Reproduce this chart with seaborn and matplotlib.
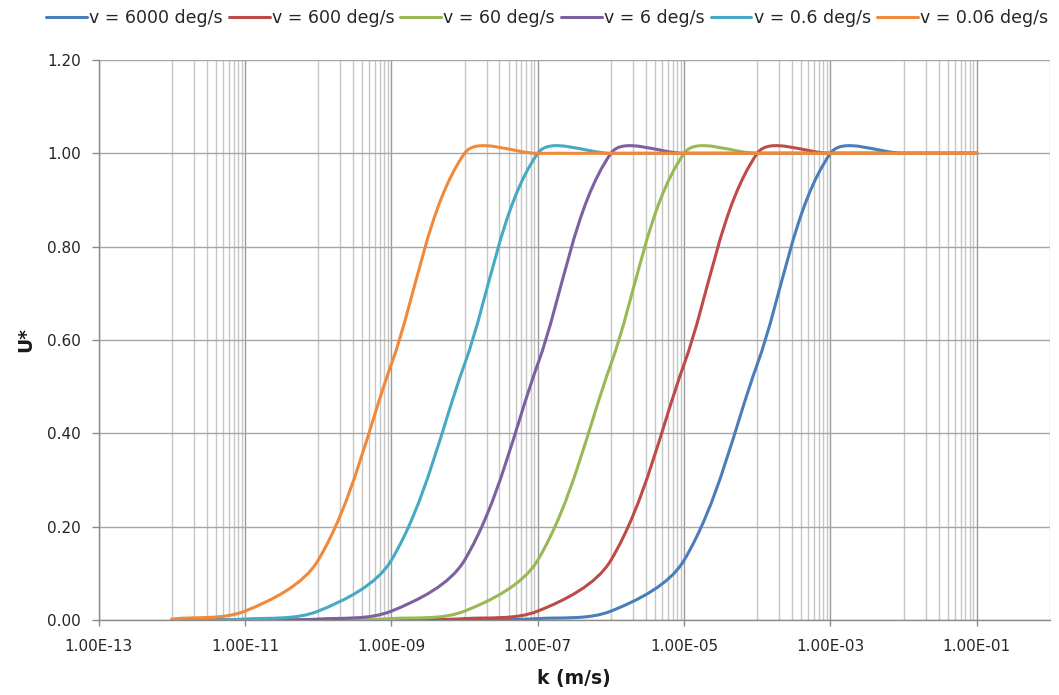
import numpy as np
import matplotlib
matplotlib.use("Agg")
import matplotlib.pyplot as plt
from matplotlib.path import Path
from matplotlib.patches import PathPatch
from matplotlib.lines import Line2D
from matplotlib.ticker import FixedLocator, FuncFormatter, NullFormatter
import seaborn as sns

# ---------------- data ----------------
k_values = [1e-12, 1e-11, 1e-10, 1e-9, 1e-8, 1e-7, 1e-6, 1e-5, 1e-4, 1e-3, 1e-2, 1e-1]

series_labels = ["v = 6000 deg/s", "v = 600 deg/s", "v = 60 deg/s",
                 "v = 6 deg/s", "v = 0.6 deg/s", "v = 0.06 deg/s"]

u_6000 = [0.0, 0.0, 0.0, 0.0, 0.0, 0.003, 0.019, 0.128, 0.548, 1.0, 1.0, 1.0]
u_600 = [0.0, 0.0, 0.0, 0.0, 0.003, 0.019, 0.128, 0.548, 1.0, 1.0, 1.0, 1.0]
u_60 = [0.0, 0.0, 0.0, 0.003, 0.019, 0.128, 0.548, 1.0, 1.0, 1.0, 1.0, 1.0]
u_6 = [0.0, 0.0, 0.002, 0.019, 0.128, 0.548, 1.0, 1.0, 1.0, 1.0, 1.0, 1.0]
u_06 = [0.0, 0.002, 0.019, 0.128, 0.548, 1.0, 1.0, 1.0, 1.0, 1.0, 1.0, 1.0]
u_006 = [0.002, 0.019, 0.128, 0.548, 1.0, 1.0, 1.0, 1.0, 1.0, 1.0, 1.0, 1.0]

series_values = [u_6000, u_600, u_60, u_6, u_06, u_006]
colors = ["#4A7EBB", "#BE4B48", "#98B954", "#7D60A0", "#46AAC5", "#F0893A"]

x_major = [1e-13, 1e-11, 1e-9, 1e-7, 1e-5, 1e-3, 1e-1]
y_ticks = [0.0, 0.2, 0.4, 0.6, 0.8, 1.0, 1.2]

# ---------------- style ----------------
sns.set_theme(style="white")
plt.rcParams["font.family"] = ["DejaVu Sans"]
palette = sns.color_palette(colors)

fig = plt.figure(figsize=(10.59, 6.95), dpi=100)
ax = fig.add_axes([98.6 / 1059, 1 - 620 / 695, (1050 - 98.6) / 1059, (620 - 60) / 695])
ax.set_xscale("log")
ax.set_xlim(1e-13, 1e0)
ax.set_ylim(0, 1.2)

# ticks and grid
ax.xaxis.set_major_locator(FixedLocator(x_major))
ax.xaxis.set_major_formatter(FuncFormatter(lambda v, p: f"{v:.2E}"))
minor = [n * 10.0 ** e for e in range(-12, 1, 2) for n in range(1, 10) if n * 10.0 ** e <= 1.0 + 1e-12]
ax.xaxis.set_minor_locator(FixedLocator(minor))
ax.xaxis.set_minor_formatter(NullFormatter())
ax.yaxis.set_major_locator(FixedLocator(y_ticks))
ax.yaxis.set_major_formatter(FuncFormatter(lambda v, p: f"{v:.2f}"))

ax.grid(True, which="major", axis="x", color="#9a9a9a", lw=1.0)
ax.grid(True, which="minor", axis="x", color="#c6c6c6", lw=1.0)
ax.grid(True, which="major", axis="y", color="#a6a6a6", lw=1.0)
ax.set_axisbelow(True)

for s in ["top", "right"]:
    ax.spines[s].set_visible(False)
for s in ["left", "bottom"]:
    ax.spines[s].set_color("#8a8a8a")
    ax.spines[s].set_linewidth(1.0)

ax.tick_params(axis="x", which="major", direction="out", length=4.5, width=1,
               color="#8a8a8a", pad=9, labelsize=11, labelcolor="#262626", bottom=True)
ax.tick_params(axis="x", which="minor", length=0)
ax.tick_params(axis="y", which="major", direction="out", length=5, width=1,
               color="#8a8a8a", pad=7.5, labelsize=11, labelcolor="#262626", left=True)

ax.set_xlabel("k (m/s)", fontsize=13.5, fontweight="bold", color="#1a1a1a", labelpad=11)
ax.set_ylabel("U*", fontsize=13.5, fontweight="bold", color="#1a1a1a", labelpad=9)


# ---------------- smoothed lines (Excel-like bezier smoothing) ----------------
def smooth_path(xs, ys):
    pts = ax.transData.transform(np.column_stack([xs, ys]))
    n = len(pts)
    verts = [pts[0]]
    codes = [Path.MOVETO]
    for i in range(n - 1):
        p0 = pts[i - 1] if i > 0 else pts[i]
        p1 = pts[i]
        p2 = pts[i + 1]
        p3 = pts[i + 2] if i + 2 < n else pts[i + 1]
        d01 = np.hypot(*(p1 - p0))
        d12 = np.hypot(*(p2 - p1))
        d23 = np.hypot(*(p3 - p2))
        t1 = (p2 - p0) / (d01 + d12) if d01 + d12 > 0 else np.zeros(2)
        t2 = (p3 - p1) / (d12 + d23) if d12 + d23 > 0 else np.zeros(2)
        c1 = p1 + t1 * d12 / 3.0
        c2 = p2 - t2 * d12 / 3.0
        verts += [c1, c2, p2]
        codes += [Path.CURVE4] * 3
    data_verts = ax.transData.inverted().transform(np.array(verts))
    return Path(data_verts, codes)


handles = []
for i, (lab, vals) in enumerate(zip(series_labels, series_values)):
    col = palette[i]
    patch = PathPatch(smooth_path(k_values, vals), fill=False, edgecolor=col,
                      lw=2.2, capstyle="round", joinstyle="round", zorder=3 + i)
    ax.add_patch(patch)
    handles.append(Line2D([0], [0], color=col, lw=2.2))

fig.legend(handles, series_labels, loc="center", bbox_to_anchor=(547 / 1059, 1 - 18 / 695),
           ncol=6, frameon=False, fontsize=12.5, handlelength=2.35, handletextpad=0.12,
           columnspacing=0.35, labelcolor="#262626")

fig.savefig("out.png", dpi=100)
